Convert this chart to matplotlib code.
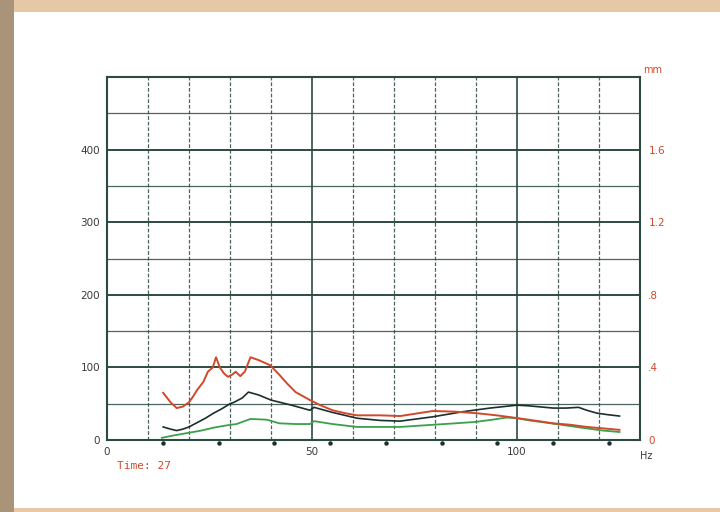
import matplotlib.pyplot as plt
from matplotlib.patches import Rectangle

# Spectrum data (Hz, value on left scale 0..500)
red_hz = [13.7, 15.5, 17, 18.5, 20, 21, 22, 23.5, 24.6, 25.8, 26.6, 27.5, 28.5, 29.5, 30.5, 31.4, 32.5,
          33.6, 35, 37, 39.8, 42, 43.9, 46, 49.5, 52, 55, 58, 61, 66.6, 71.5, 79.5, 85, 90, 95, 99,
          104, 108.8, 113, 117, 121, 125]
red_val = [65, 52, 44, 46, 52, 60, 69, 80, 94, 100, 114, 100, 92, 87, 90, 94, 88,
           94, 114, 110, 103, 90, 78, 66, 55, 48, 41, 37, 34, 34, 33, 40, 39, 37, 34, 31,
           27, 23, 21, 18, 16, 14]

black_hz = [13.7, 15.5, 17, 18.5, 20, 22, 24, 26, 28, 30, 31, 33, 34.5, 37, 40, 45, 49.5, 50.5,
            55, 61, 66.6, 71.5, 79.5, 86.8, 93.4, 100, 103, 108.8, 112, 115, 117, 119.5, 122, 125]
black_val = [18, 15, 13, 15, 18, 24, 30, 37, 43, 50, 52, 58, 66, 62, 55, 48, 41, 45,
             38, 30, 27, 26, 32, 39, 44, 48, 47, 44, 44, 45, 41, 37, 35, 33]

green_hz = [13.4, 16, 20, 23, 26, 29, 31.6, 33.5, 35, 39, 42, 46, 49.5, 50.5, 55, 61, 66.6, 71.5,
            79.5, 85, 90, 94, 97.5, 100, 103, 107, 112, 117, 121, 125]
green_val = [3, 6, 10, 13, 17, 20, 22, 26, 29, 28, 23, 22, 22, 26, 22, 18, 18, 18,
             21, 23, 25, 28, 31, 30, 27, 24, 20, 16, 13, 11]

# small order markers under the x axis
order_hz = [13.6, 27.2, 40.8, 54.4, 68.0, 81.6, 95.2, 108.8, 122.4]

left_ticks = [0, 100, 200, 300, 400]
right_labels = ['0', '.4', '.8', '1.2', '1.6']
x_labels = [0, 50, 100]

GRID = '#2c4a42'
RED = '#d0492a'

fig = plt.figure(figsize=(7.2, 5.12), dpi=100)
fig.patch.set_facecolor('#e6c7a6')
# left shadow strip and white sheet
fig.patches.append(Rectangle((0, 0), 0.02, 1, transform=fig.transFigure,
                             facecolor='#a99479', edgecolor='none', zorder=-10))
fig.patches.append(Rectangle((0.019, 0.008), 0.99, 0.969, transform=fig.transFigure,
                             facecolor='white', edgecolor='none', zorder=-10))

ax = fig.add_axes([0.1486, 0.1406, 0.7403, 0.709])
ax.set_facecolor('white')
ax.set_xlim(0, 130)
ax.set_ylim(0, 500)

# grid
for x in range(10, 130, 10):
    if x % 50 == 0:
        ax.axvline(x, color=GRID, lw=1.2, zorder=1)
    else:
        ax.axvline(x, color=GRID, lw=0.9, ls=(0, (3, 1.5)), alpha=0.85, zorder=1)
for y in range(50, 500, 50):
    if y % 100 == 0:
        ax.axhline(y, color=GRID, lw=1.4, zorder=1)
    else:
        ax.axhline(y, color=GRID, lw=0.9, alpha=0.85, zorder=1)
for s in ax.spines.values():
    s.set_color(GRID)
    s.set_linewidth(1.5)

ax.plot(green_hz, green_val, color='#3aa04a', lw=1.3, zorder=3)
ax.plot(black_hz, black_val, color='#1d2e2e', lw=1.2, zorder=3)
ax.plot(red_hz, red_val, color=RED, lw=1.4, zorder=4)
ax.plot(order_hz, [-4] * len(order_hz), ls='none', marker='o', ms=2.2,
        color='#1d2e2e', clip_on=False, zorder=5)

ax.set_yticks(left_ticks)
ax.set_yticklabels([str(t) for t in left_ticks], fontsize=7.5, color='#3a3a3a')
ax.set_xticks(x_labels)
ax.set_xticklabels([str(t) for t in x_labels], fontsize=7.5, color='#3a3a3a')
ax.tick_params(length=0, pad=5)

ax2 = ax.twinx()
ax2.set_ylim(0, 500)
ax2.set_yticks(left_ticks)
ax2.set_yticklabels(right_labels, fontsize=7.5, color=RED)
ax2.tick_params(length=0, pad=6)
for s in ax2.spines.values():
    s.set_visible(False)

ax.text(1.005, 1.005, 'mm', transform=ax.transAxes, fontsize=7, color=RED,
        ha='left', va='bottom')
ax.text(1.0, -0.03, 'Hz', transform=ax.transAxes, fontsize=7, color='#3a3a3a',
        ha='left', va='top')
ax.text(0.018, -0.058, 'Time: 27', transform=ax.transAxes, fontsize=8, color=RED,
        family='DejaVu Sans Mono', ha='left', va='top')

fig.savefig('out.png', dpi=100, facecolor=fig.get_facecolor())
